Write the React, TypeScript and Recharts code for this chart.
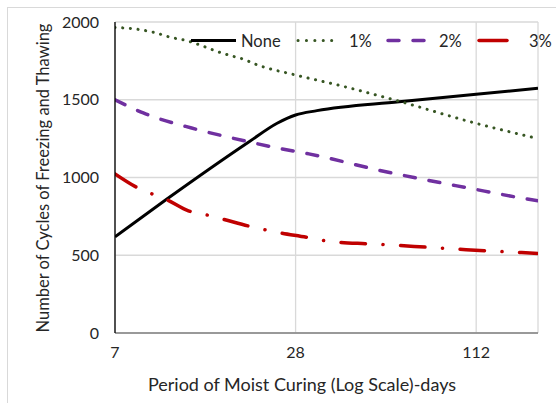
import React from 'react';
import { LineChart, Line, XAxis, YAxis, CartesianGrid } from 'recharts';

// Period of moist curing (days) and number of freeze-thaw cycles, per series
const noneDays = [7, 10.4, 19.6, 24.3, 28, 33, 62, 112, 180];
const noneCycles = [619, 860, 1230, 1349, 1402, 1430, 1487, 1535, 1574];

const onePctDays = [7, 8.4, 9.5, 10.6, 12.3, 13.7, 15.2, 17, 19, 20.5, 28, 40, 60, 112, 180];
const onePctCycles = [1965, 1952, 1932, 1904, 1877, 1846, 1813, 1784, 1757, 1730, 1659, 1588, 1498, 1348, 1250];

const twoPctDays = [7, 8.7, 12.6, 16.5, 20, 24.3, 31, 56, 107, 165, 180];
const twoPctCycles = [1500, 1415, 1318, 1262, 1225, 1190, 1152, 1037, 930, 862, 850];

const threePctDays = [7, 8.4, 9.3, 10.4, 12.3, 14.3, 16.1, 19.9, 24.7, 30.5, 34.8, 39.2, 48, 61, 76, 96, 122, 153, 180];
const threePctCycles = [1023, 930, 894, 858, 786, 757, 731, 684, 645, 615, 594, 583, 574, 564, 552, 540, 528, 519, 512];

const xTicks = [7, 28, 112];
const yTicks = [0, 500, 1000, 1500, 2000];
const seriesNames = ['None', '1%', '2%', '3%'];

const zip = (days: number[], cycles: number[]) => days.map((d, i) => ({ days: d, cycles: cycles[i] }));

const FONT = 'Lato, "Open Sans", sans-serif';

const series = [
  { name: seriesNames[0], data: zip(noneDays, noneCycles), color: '#000000', width: 3, dash: undefined as string | undefined, cap: 'butt', legendDash: undefined as string | undefined, lx: 191, lw: 45, tx: 241 },
  { name: seriesNames[1], data: zip(onePctDays, onePctCycles), color: '#375623', width: 3, dash: '0.1 7.6', cap: 'round', legendDash: '0.1 8.3', lx: 298, lw: 42, tx: 349 },
  { name: seriesNames[2], data: zip(twoPctDays, twoPctCycles), color: '#7030a0', width: 3.5, dash: '11 14', cap: 'round', legendDash: '11 14', lx: 388, lw: 40, tx: 439 },
  { name: seriesNames[3], data: zip(threePctDays, threePctCycles), color: '#c00000', width: 3.5, dash: '24.5 17.5 0.1 17.5', cap: 'round', legendDash: undefined, lx: 479, lw: 28, tx: 529 },
];

const LegendOverlay = () => (
  <svg width={556} height={60} style={{ position: 'absolute', left: 0, top: 0, pointerEvents: 'none' }}>
    {series.map((s) => (
      <g key={s.name}>
        <line x1={s.lx} x2={s.lx + s.lw} y1={40.5} y2={40.5} stroke={s.color} strokeWidth={s.width}
          strokeDasharray={s.legendDash} strokeLinecap={s.cap as any} />
        <text x={s.tx} y={41} dominantBaseline="central" fontFamily={FONT} fontSize={16.5} fill="#262626">{s.name}</text>
      </g>
    ))}
  </svg>
);

export default function App() {
  return (
    <div style={{ position: 'absolute', left: 0, top: 0, width: 556, height: 403, overflow: 'hidden', background: '#fff' }}>
      <div style={{ position: 'absolute', left: 7, top: 7, width: 700, height: 600, border: '1px solid #d9d9d9' }} />
      <LineChart width={556} height={403} margin={{ top: 22, right: 18, bottom: 0, left: 0 }}
        style={{ position: 'absolute', left: 0, top: 0, fontFamily: FONT }}>
        <CartesianGrid stroke="#d9d9d9" strokeWidth={1.3} />
        <XAxis dataKey="days" type="number" scale="log" domain={[7, 180]} ticks={xTicks} allowDataOverflow
          height={70} tickLine={false} axisLine={{ stroke: '#808080', strokeWidth: 1.3 }} tickMargin={8}
          tick={{ fill: '#262626', fontSize: 16, fontFamily: FONT }}
          label={{
            content: () => (
              <text x={302} y={384} textAnchor="middle" dominantBaseline="central" fontFamily={FONT} fontSize={18} fill="#262626">
                Period of Moist Curing (Log Scale)-days
              </text>
            ),
          }} />
        <YAxis type="number" domain={[0, 2000]} ticks={yTicks} width={115} tickLine={false}
          axisLine={{ stroke: '#000000', strokeWidth: 1.3 }} tickMargin={10}
          tick={{ fill: '#262626', fontSize: 16, fontFamily: FONT }}
          label={{
            content: () => (
              <text transform="translate(43,178) rotate(-90)" textAnchor="middle" dominantBaseline="central" fontFamily={FONT} fontSize={16.5} fill="#262626">
                Number of Cycles of Freezing and Thawing
              </text>
            ),
          }} />
        {series.map((s) => (
          <Line key={s.name} data={s.data} dataKey="cycles" name={s.name} type="monotone" stroke={s.color}
            strokeWidth={s.width} strokeDasharray={s.dash} strokeLinecap={s.cap as any} dot={false}
            activeDot={false} isAnimationActive={false} />
        ))}
      </LineChart>
      <LegendOverlay />
    </div>
  );
}
